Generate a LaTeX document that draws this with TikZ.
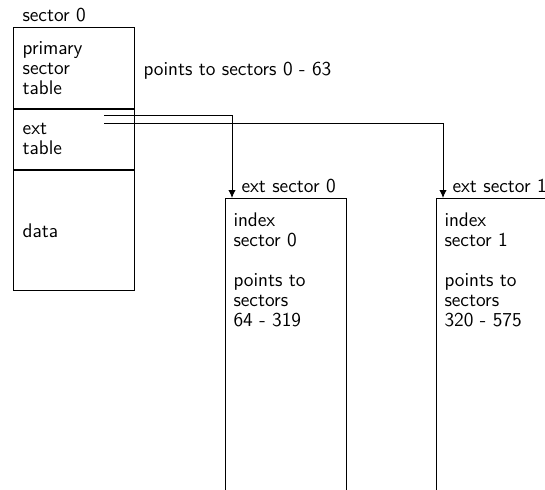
\documentclass[tikz,border=0pt]{standalone}
\usepackage{tikz}
\usetikzlibrary{positioning, arrows.meta}

\begin{document}
\begin{tikzpicture}[x=0.75pt, y=-0.75pt, line width=0.75pt, >={Latex[length=6pt, width=5.5pt]},
        every node/.style={font=\fontsize{14.8}{15}\sffamily},
        secbox/.style={draw, rectangle, minimum width=90.75pt, text width=77pt,
                       inner xsep=6.75pt, align=left},
        extbox/.style={draw, rectangle, minimum width=90.4pt, minimum height=240pt},
        boxtext/.style={anchor=north west, align=left, inner sep=0pt}]
        \useasboundingbox (0,0) rectangle (545,489);
        \clip (0,0) rectangle (545,489);
        % sector 0
        \node[secbox, minimum height=60.4pt, anchor=north west] (prim) at (13,27) {primary\\sector\\table};
        \node[secbox, minimum height=45pt, below=0pt of prim] (ext) {ext\\table};
        \node[secbox, minimum height=90.4pt, below=0pt of ext] (data) {data};
        \node[anchor=south west, inner xsep=0pt] (s0) at ([xshift=6.75pt]prim.north west) {sector 0};
        \node[anchor=west, inner sep=0pt] (pts) at ([xshift=6pt, yshift=-2pt]prim.east) {points to sectors 0 - 63};
        % ext sectors
        \foreach \i/\x/\lo/\hi in {0/225/64/319, 1/436/320/575} {
            \node[extbox, anchor=north west] (es\i) at (\x,198) {};
            \node[anchor=south west, inner xsep=0pt] (el\i) at ([xshift=12pt]es\i.north west) {ext sector \i};
            \node[boxtext] (et\i) at ([xshift=6pt, yshift=-11pt]es\i.north west)
                {index\\sector \i\\[15pt]points to\\sectors\\\lo{} - \hi};
        }
        % pointers
        \coordinate (p0) at (104,115);
        \coordinate (p1) at (104,123);
        \draw[->] (p0) -| ([xshift=5.25pt]es0.north west);
        \draw[->] (p1) -| ([xshift=5.25pt]es1.north west);
\end{tikzpicture}
\end{document}
